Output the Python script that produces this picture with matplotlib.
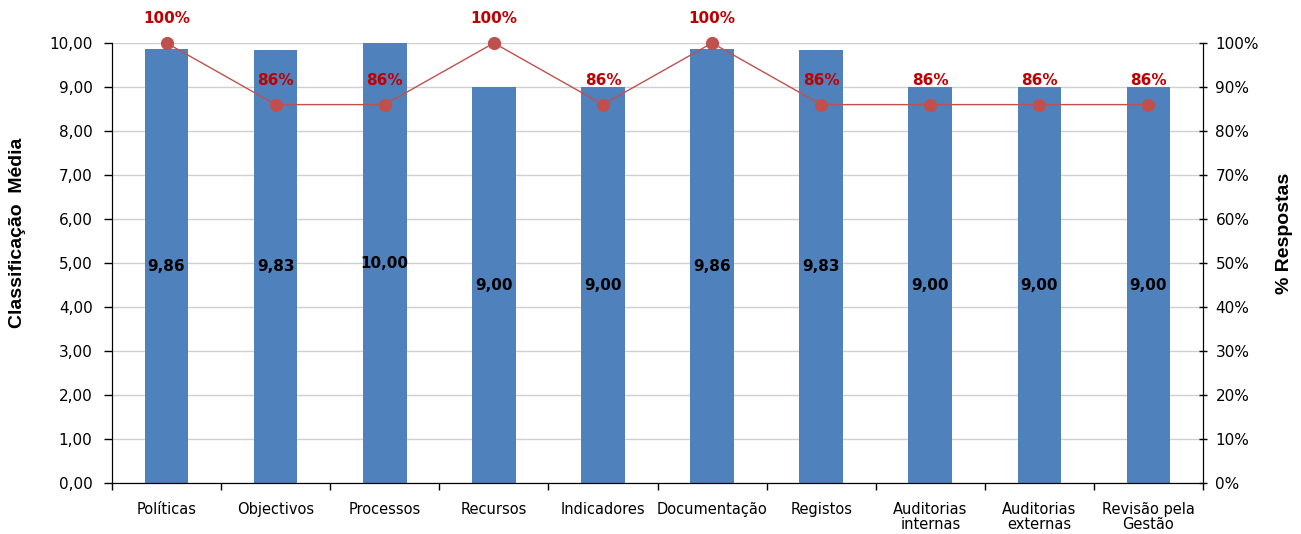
import matplotlib
matplotlib.use("Agg")
import matplotlib.pyplot as plt
from matplotlib.ticker import FuncFormatter, MultipleLocator

categories = ["Políticas", "Objectivos", "Processos", "Recursos", "Indicadores",
              "Documentação", "Registos", "Auditorias\ninternas",
              "Auditorias\nexternas", "Revisão pela\nGestão"]
mean_scores = [9.86, 9.83, 10.00, 9.00, 9.00, 9.86, 9.83, 9.00, 9.00, 9.00]
response_pct = [100, 86, 86, 100, 86, 100, 86, 86, 86, 86]

bar_color = "#4f81bd"
line_color = "#c0504d"
label_red = "#c00000"
tick_font = "DejaVu Sans"

fig = plt.figure(figsize=(13.01, 5.34), dpi=100)
ax = fig.add_axes([112 / 1301, 51 / 534, (1203 - 112) / 1301, (483 - 43) / 534])
ax2 = ax.twinx()

x = list(range(len(categories)))

# Bars: mean classification
ax.bar(x, mean_scores, width=0.40, color=bar_color, zorder=2)
for xi, v in zip(x, mean_scores):
    ax.text(xi, v / 2, f"{v:.2f}".replace(".", ","), ha="center", va="center",
            fontsize=11, fontweight="bold", color="black", family=tick_font, zorder=3)

ax.set_ylim(0, 10)
ax.set_xlim(-0.5, len(categories) - 0.5)
ax.yaxis.set_major_locator(MultipleLocator(1))
ax.yaxis.set_major_formatter(FuncFormatter(lambda v, p: f"{v:.2f}".replace(".", ",")))
ax.grid(axis="y", color="#cfcfcf", linewidth=1, zorder=0)
ax.set_axisbelow(True)

ax.set_xticks([i + 0.5 for i in range(-1, len(categories))])
ax.set_xticklabels([])
ax.set_xticks(x, minor=True)
ax.set_xticklabels(categories, minor=True, fontsize=10.5, family=tick_font,
                   linespacing=1.0)
ax.tick_params(axis="x", which="minor", length=0, pad=14)
ax.tick_params(axis="x", which="major", length=5, direction="out", width=1)
ax.tick_params(axis="y", labelsize=11, length=6, direction="out", width=1, pad=8)

ax.set_ylabel("Classificação  Média", fontsize=14, fontweight="bold",
              family="Liberation Sans")
ax.yaxis.set_label_coords(-0.079, 0.568)

ax.spines["top"].set_visible(False)
ax2.spines["top"].set_visible(False)
for s in ("left", "bottom"):
    ax.spines[s].set_color("black")
ax2.spines["right"].set_color("black")

# Line: percentage of responses
ax2.plot(x, response_pct, color=line_color, linewidth=1, marker="o",
         markersize=8.5, zorder=4, clip_on=False)
for xi, p in zip(x, response_pct):
    ax2.annotate(f"{p}%", (xi, p), xytext=(0, 12), textcoords="offset points",
                 ha="center", va="bottom", fontsize=11, fontweight="bold",
                 color=label_red, family=tick_font)

ax2.set_ylim(0, 100)
ax2.yaxis.set_major_locator(MultipleLocator(10))
ax2.yaxis.set_major_formatter(FuncFormatter(lambda v, p: f"{int(round(v))}%"))
ax2.tick_params(axis="y", labelsize=11, length=6, direction="inout", width=1, pad=6)
ax2.set_ylabel("% Respostas", fontsize=14, fontweight="bold",
               family="Liberation Sans", rotation=90)
ax2.yaxis.set_label_position("right")
ax2.yaxis.set_label_coords(1.067, 0.568)

fig.savefig("out.png", dpi=100, facecolor="white")
